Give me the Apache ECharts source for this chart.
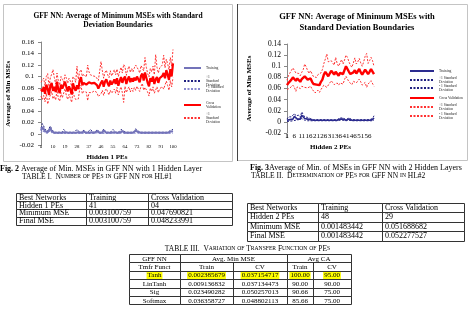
<!DOCTYPE html>
<html>
<head>
<meta charset="utf-8">
<script src="https://cdn.jsdelivr.net/npm/echarts@6/dist/echarts.min.js"></script>
<style>
html,body{margin:0;padding:0;background:#fff;}
#main{width:468px;height:318px;}
</style>
</head>
<body>
<div id="main"></div>
<script>
var SERIF = 'Liberation Serif';

// ---- Fig. 2 : one hidden layer, 1..100 PEs ----
var pes1 = [];
for (var i = 1; i <= 100; i++) pes1.push(String(i));

var train1 = [0.006,0.012,0.009,0.005,0.004,0.003,0.005,0.01,0.005,0.003,
  0.002,0.002,0.002,0.002,0.002,0.002,0.002,0.005,0.003,0.002,
  0.002,0.002,0.002,0.002,0.002,0.002,0.002,0.005,0.003,0.002,
  0.002,0.002,0.004,0.002,0.002,0.002,0.002,0.005,0.003,0.002,
  0.002,0.002,0.005,0.003,0.002,0.002,0.002,0.006,0.003,0.002,
  0.002,0.002,0.002,0.002,0.005,0.003,0.002,0.002,0.002,0.002,
  0.005,0.005,0.003,0.002,0.002,0.002,0.002,0.002,0.002,0.002,
  0.002,0.006,0.005,0.003,0.002,0.002,0.002,0.002,0.002,0.002,
  0.002,0.002,0.002,0.002,0.002,0.002,0.002,0.002,0.002,0.002,
  0.003,0.002,0.002,0.002,0.002,0.002,0.002,0.004,0.002,0.005];
var trainHi1 = [0.01,0.018,0.014,0.008,0.007,0.005,0.008,0.014,0.008,0.005,
  0.003,0.003,0.003,0.003,0.003,0.003,0.003,0.008,0.005,0.003,
  0.003,0.003,0.003,0.003,0.003,0.003,0.003,0.008,0.005,0.003,
  0.003,0.003,0.007,0.003,0.003,0.003,0.003,0.008,0.005,0.003,
  0.003,0.003,0.008,0.005,0.003,0.003,0.003,0.009,0.005,0.003,
  0.003,0.003,0.003,0.003,0.008,0.005,0.003,0.003,0.003,0.003,
  0.008,0.008,0.005,0.003,0.003,0.003,0.003,0.003,0.003,0.003,
  0.003,0.009,0.008,0.005,0.003,0.003,0.003,0.003,0.003,0.003,
  0.003,0.003,0.003,0.003,0.003,0.003,0.003,0.003,0.003,0.003,
  0.005,0.003,0.003,0.003,0.003,0.003,0.003,0.006,0.003,0.008];
var trainLo1 = [0.002,0.006,0.004,0.002,0.001,0.001,0.002,0.006,0.002,0.001,
  0.001,0.001,0.001,0.001,0.001,0.001,0.001,0.002,0.001,0.001,
  0.001,0.001,0.001,0.001,0.001,0.001,0.001,0.002,0.001,0.001,
  0.001,0.001,0.001,0.001,0.001,0.001,0.001,0.002,0.001,0.001,
  0.001,0.001,0.002,0.001,0.001,0.001,0.001,0.003,0.001,0.001,
  0.001,0.001,0.001,0.001,0.002,0.001,0.001,0.001,0.001,0.001,
  0.002,0.002,0.001,0.001,0.001,0.001,0.001,0.001,0.001,0.001,
  0.001,0.003,0.002,0.001,0.001,0.001,0.001,0.001,0.001,0.001,
  0.001,0.001,0.001,0.001,0.001,0.001,0.001,0.001,0.001,0.001,
  0.001,0.001,0.001,0.001,0.001,0.001,0.001,0.002,0.001,0.002];
var cv1 = [0.078,0.074,0.082,0.07,0.086,0.079,0.068,0.083,0.089,0.075,
  0.082,0.073,0.091,0.077,0.071,0.086,0.079,0.076,0.091,0.082,
  0.074,0.083,0.077,0.069,0.088,0.08,0.075,0.085,0.078,0.093,
  0.099,0.085,0.089,0.087,0.086,0.088,0.09,0.087,0.088,0.086,
  0.089,0.087,0.085,0.079,0.077,0.089,0.093,0.082,0.091,0.095,
  0.088,0.083,0.093,0.086,0.09,0.095,0.087,0.097,0.084,0.092,
  0.099,0.089,0.096,0.1,0.087,0.095,0.1,0.09,0.097,0.091,
  0.098,0.093,0.1,0.095,0.09,0.101,0.105,0.093,0.107,0.098,
  0.089,0.083,0.097,0.091,0.1,0.087,0.095,0.099,0.089,0.097,
  0.094,0.101,0.106,0.097,0.111,0.103,0.094,0.113,0.1,0.123];
var cvHi1 = [0.09,0.088,0.097,0.084,0.1,0.105,0.082,0.098,0.104,0.112,
  0.098,0.087,0.106,0.092,0.085,0.1,0.095,0.09,0.103,0.097,
  0.088,0.097,0.092,0.083,0.1,0.096,0.09,0.118,0.095,0.108,
  0.112,0.1,0.104,0.102,0.099,0.12,0.108,0.103,0.104,0.101,
  0.103,0.1,0.098,0.093,0.092,0.126,0.11,0.097,0.107,0.111,
  0.103,0.098,0.11,0.101,0.106,0.112,0.103,0.113,0.1,0.108,
  0.116,0.106,0.121,0.117,0.102,0.112,0.118,0.107,0.114,0.108,
  0.115,0.12,0.118,0.112,0.106,0.119,0.122,0.11,0.133,0.116,
  0.105,0.099,0.114,0.108,0.118,0.103,0.138,0.116,0.106,0.115,
  0.112,0.12,0.137,0.115,0.13,0.122,0.112,0.133,0.118,0.147];
var cvLo1 = [0.066,0.06,0.067,0.056,0.071,0.052,0.055,0.068,0.074,0.061,
  0.066,0.059,0.076,0.062,0.057,0.072,0.063,0.062,0.079,0.067,
  0.06,0.069,0.062,0.055,0.074,0.065,0.06,0.057,0.061,0.078,
  0.085,0.07,0.074,0.072,0.073,0.058,0.072,0.071,0.072,0.071,
  0.075,0.074,0.072,0.065,0.062,0.07,0.076,0.067,0.075,0.079,
  0.073,0.068,0.076,0.071,0.074,0.078,0.071,0.081,0.068,0.076,
  0.082,0.072,0.055,0.083,0.072,0.078,0.082,0.073,0.08,0.074,
  0.081,0.076,0.083,0.078,0.074,0.083,0.088,0.076,0.081,0.08,
  0.073,0.066,0.08,0.074,0.082,0.071,0.07,0.082,0.072,0.079,
  0.076,0.082,0.078,0.079,0.092,0.084,0.076,0.093,0.082,0.098];

// ---- Fig. 3 : two hidden layers, 1..60 PEs ----
var pes2 = [];
for (var j = 1; j <= 60; j++) pes2.push(String(j));

var train2 = [0.003,0.006,0.004,0.006,0.005,0.01,0.007,0.005,0.008,0.005,
  0.012,0.009,0.006,0.008,0.005,0.006,0.004,0.003,0.003,0.005,
  0.003,0.003,0.003,0.003,0.003,0.003,0.003,0.003,0.003,0.005,
  0.003,0.005,0.003,0.005,0.003,0.003,0.005,0.003,0.005,0.003,
  0.003,0.003,0.005,0.003,0.003,0.005,0.003,0.003,0.003,0.003,
  0.003,0.003,0.003,0.003,0.003,0.003,0.003,0.003,0.004,0.007];
var trainHi2 = [0.005,0.009,0.007,0.009,0.008,0.015,0.011,0.008,0.012,0.008,
  0.018,0.013,0.009,0.012,0.008,0.009,0.006,0.004,0.004,0.007,
  0.004,0.004,0.004,0.004,0.004,0.004,0.004,0.004,0.004,0.007,
  0.004,0.007,0.004,0.007,0.004,0.004,0.007,0.004,0.007,0.004,
  0.004,0.004,0.007,0.004,0.004,0.007,0.004,0.004,0.004,0.004,
  0.004,0.004,0.004,0.004,0.004,0.004,0.004,0.004,0.006,0.011];
var trainLo2 = [0.001,0.003,0.001,0.003,0.002,0.005,0.003,0.002,0.004,0.002,
  0.006,0.005,0.003,0.004,0.002,0.003,0.002,0.002,0.002,0.003,
  0.002,0.002,0.002,0.002,0.002,0.002,0.002,0.002,0.002,0.003,
  0.002,0.003,0.002,0.003,0.002,0.002,0.003,0.002,0.003,0.002,
  0.002,0.002,0.003,0.002,0.002,0.003,0.002,0.002,0.002,0.002,
  0.002,0.002,0.002,0.002,0.002,0.002,0.002,0.002,0.002,0.003];
var cv2 = [0.066,0.07,0.072,0.076,0.08,0.079,0.074,0.078,0.075,0.072,
  0.077,0.08,0.082,0.079,0.076,0.073,0.078,0.072,0.068,0.065,
  0.067,0.07,0.066,0.072,0.076,0.085,0.09,0.088,0.082,0.087,
  0.092,0.089,0.085,0.09,0.087,0.083,0.088,0.091,0.086,0.093,
  0.1,0.097,0.09,0.086,0.083,0.089,0.093,0.087,0.09,0.095,
  0.089,0.085,0.088,0.094,0.091,0.086,0.09,0.095,0.092,0.086];
var cvHi2 = [0.075,0.083,0.088,0.091,0.097,0.095,0.088,0.091,0.087,0.083,
  0.089,0.094,0.104,0.099,0.092,0.087,0.092,0.086,0.081,0.078,
  0.08,0.085,0.083,0.088,0.094,0.105,0.113,0.122,0.108,0.106,
  0.11,0.107,0.102,0.116,0.105,0.1,0.106,0.112,0.104,0.111,
  0.12,0.116,0.108,0.102,0.098,0.106,0.115,0.104,0.108,0.114,
  0.106,0.1,0.108,0.118,0.123,0.105,0.11,0.116,0.11,0.1];
var cvLo2 = [0.058,0.06,0.061,0.064,0.066,0.062,0.055,0.063,0.062,0.06,
  0.064,0.066,0.062,0.06,0.061,0.058,0.064,0.059,0.056,0.052,
  0.054,0.057,0.053,0.058,0.06,0.066,0.068,0.062,0.064,0.07,
  0.074,0.071,0.067,0.066,0.07,0.066,0.07,0.072,0.068,0.076,
  0.082,0.079,0.072,0.07,0.067,0.073,0.072,0.07,0.072,0.077,
  0.072,0.066,0.069,0.071,0.062,0.068,0.07,0.074,0.075,0.064];

// legend names (kept unique between the two charts)
var names1 = ['Training', '+1\nStandard\nDeviation', '- 1 Standard\nDeviation',
  'Cross\nValidation', '+1\nStandard\nDeviation ', '- 1 Standard\nDeviation '];
var names2 = ['Training ', '+1 Standard\nDeviation', '- 1 Standard\nDeviation  ',
  'Cross Validation', '+1 Standard\nDeviation ', '- 1 Standard\nDeviation   '];

// tables
var tab1Rows = [
  ['Best Networks', 'Training', 'Cross Validation'],
  ['Hidden 1 PEs', '41', '04'],
  ['Minimum MSE', '0.003100759', '0.047690821'],
  ['Final MSE', '0.003100759', '0.048233991']
];
var tab2Rows = [
  ['Best Networks', 'Training', 'Cross Validation'],
  ['Hidden 2 PEs', '48', '29'],
  ['Minimum MSE', '0.001483442', '0.051688682'],
  ['Final MSE', '0.001483442', '0.052277527']
];
var tab3Head = [
  [{t: 'GFF NN'}, {t: 'Avg. Min MSE', span: 2}, {t: 'Avg CA', span: 2}],
  ['Tmfr Funct', 'Train', 'CV', 'Train', 'CV']
];
var tab3Rows = [
  ['Tanh', '0.002385679', '0.037154717', '100.00', '95.00'],
  ['LinTanh', '0.009136832', '0.037134473', '90.00', '90.00'],
  ['Sig', '0.023490282', '0.050257013', '90.66', '75.00'],
  ['Softmax', '0.036358727', '0.048802113', '85.66', '75.00']
];

function line(name, data, idx, color, width, dashed, z) {
  return {
    type: 'line', name: name, data: data,
    xAxisIndex: idx, yAxisIndex: idx,
    symbol: 'none', showSymbol: false, z: z || 2,
    lineStyle: {color: color, width: width, type: dashed ? [2, 1.5] : 'solid'},
    itemStyle: {color: color}
  };
}

// one legend per item so each can sit where the reference puts it
function legends(names, left, centers, w) {
  var out = [];
  centers.forEach(function (c, k) {
    var h = names[k].split('\n').length * 4;
    out.push({
      data: [names[k]], orient: 'vertical', left: left, top: c - h / 2,
      padding: 0, itemWidth: w, itemHeight: 4, selectedMode: false,
      itemStyle: {opacity: 0},
      textStyle: {fontSize: 3.6, lineHeight: 4, fontFamily: SERIF, color: '#222'}
    });
  });
  return out;
}

function smallCaps(s) {
  var out = '', i = 0;
  while (i < s.length) {
    var low = s[i] >= 'a' && s[i] <= 'z', k = i;
    while (k < s.length && ((s[k] >= 'a' && s[k] <= 'z') === low)) k++;
    var seg = s.slice(i, k);
    out += low ? '{sc|' + seg.toUpperCase() + '}' : '{n|' + seg + '}';
    i = k;
  }
  return out;
}

function capText(x, y, txt, align, size) {
  size = size || 7.5;
  return {
    type: 'text', silent: true, x: x, y: y,
    style: {
      text: txt, align: align || 'left', verticalAlign: 'middle', fill: '#000',
      fontSize: size, fontFamily: SERIF,
      rich: {
        n: {fontSize: size, fontFamily: SERIF, fill: '#000'},
        sc: {fontSize: size * 0.75, fontFamily: SERIF, fill: '#000'},
        b: {fontSize: size, fontFamily: SERIF, fontWeight: 'bold', fill: '#000'},
        t: {fontSize: size, fontFamily: SERIF, fill: '#000'}
      }
    }
  };
}

function addTable(els, colX, y0, rowH, rows, o) {
  rows.forEach(function (row, r) {
    var c = 0;
    row.forEach(function (cell) {
      var span = cell.span || 1;
      var txt = typeof cell === 'string' ? cell : cell.t;
      var x1 = colX[c], x2 = colX[c + span];
      var y1 = y0 + r * rowH;
      els.push({
        type: 'rect', silent: true,
        shape: {x: Math.round(x1) + 0.5, y: Math.round(y1) + 0.5,
          width: Math.round(x2) - Math.round(x1), height: Math.round(y1 + rowH) - Math.round(y1)},
        style: {fill: 'none', stroke: '#333', lineWidth: 1}
      });
      var hl = o.highlight === r;
      els.push({
        type: 'text', silent: true,
        x: o.align === 'center' ? (x1 + x2) / 2 : x1 + o.pad,
        y: y1 + rowH / 2 + 0.5,
        style: {
          text: txt, fontSize: o.fontSize, fontFamily: SERIF, fill: '#000',
          align: o.align, verticalAlign: 'middle',
          backgroundColor: hl ? '#ffff00' : 'transparent', padding: hl ? [0, 1, 0, 1] : 0
        }
      });
      c += span;
    });
  });
}

var els = [];
// figure frames
els.push({type: 'rect', silent: true, shape: {x: 3.5, y: 4.5, width: 229, height: 157},
  style: {fill: 'none', stroke: '#c4c4c4', lineWidth: 1}});
els.push({type: 'rect', silent: true, shape: {x: 237.5, y: 4.5, width: 230, height: 156},
  style: {fill: 'none', stroke: '#c4c4c4', lineWidth: 1}});
els.push({type: 'line', silent: true, shape: {x1: 237.5, y1: 4, x2: 237.5, y2: 161},
  style: {stroke: '#444', lineWidth: 1}});

// captions
els.push(capText(0, 169, '{b|Fig. 2} {t|Average of Min. MSEs in GFF NN with 1 Hidden Layer}', 'left', 8));
els.push(capText(22, 177, '{n|TABLE I.  }' + smallCaps('Number of PEs in GFF NN for HL#1')));
els.push(capText(250, 167.5, '{b|Fig. 3}{t|Average of Min. of MSEs in GFF NN with 2 Hidden Layers}', 'left', 8));
els.push(capText(251, 176, '{n|TABLE II.  }' + smallCaps('Determination of PEs for GFF NN in HL#2')));
els.push(capText(247.5, 249, '{n|TABLE III.  }' + smallCaps('Variation of Transfer Function of PEs'), 'center'));

addTable(els, [16, 86, 148, 232], 193.3, 7.8, tab1Rows, {align: 'left', pad: 3, fontSize: 8});
addTable(els, [247, 318, 382, 464], 202.5, 9.5, tab2Rows, {align: 'left', pad: 3, fontSize: 8});
addTable(els, [129, 180, 233, 287, 313, 351], 254, 8.4, tab3Head.concat(tab3Rows),
  {align: 'center', pad: 0, fontSize: 7, highlight: 2});

els.forEach(function (e, k) { e.id = 'g' + k; });

var axisFont = {fontFamily: SERIF, color: '#000'};
var nameFont = {fontSize: 7, fontWeight: 'bold', fontFamily: SERIF, color: '#000'};
var xLab1 = {interval: 8, fontSize: 4.8, margin: -1};
var xLab2 = {interval: 4, fontSize: 7, margin: 0};

// category axes carry only the tick labels; the axis titles sit on twin axes
function catAxis(grid, data, labels) {
  return {type: 'category', gridIndex: grid, data: data, boundaryGap: false,
    axisLine: {show: false}, axisTick: {show: false},
    axisLabel: Object.assign({showMinLabel: true}, axisFont, labels)};
}
function nameAxis(grid, data, name, gap) {
  return {type: 'category', gridIndex: grid, data: data, boundaryGap: false,
    axisLine: {show: false}, axisTick: {show: false}, axisLabel: {show: false},
    name: name, nameLocation: 'middle', nameGap: gap, nameTextStyle: nameFont};
}

var option = {
  animation: false,
  title: [
    {text: 'GFF NN: Average of Minimum MSEs with Standard\nDeviation Boundaries',
      left: 118, top: 11.5, textAlign: 'center', padding: 0,
      textStyle: {fontSize: 7.5, lineHeight: 9, fontWeight: 'bold', fontFamily: SERIF, color: '#000'}},
    {text: 'GFF NN: Average of Minimum MSEs with\nStandard Deviation Boundaries',
      left: 357, top: 11.5, textAlign: 'center', padding: 0,
      textStyle: {fontSize: 8.5, lineHeight: 11, fontWeight: 'bold', fontFamily: SERIF, color: '#000'}}
  ],
  legend: legends(names1, 183, [68, 81, 89, 105, 118], 17)
    .concat(legends(names2, 409, [71, 80, 88, 98, 107, 116], 24)),
  grid: [
    {left: 41, top: 42, width: 132, height: 103.5},
    {left: 287, top: 44, width: 87, height: 89},
    {left: 41, top: 42, width: 132, height: 103.5},
    {left: 287, top: 44, width: 87, height: 89}
  ],
  xAxis: [
    catAxis(0, pes1, xLab1),
    catAxis(1, pes2, xLab2),
    nameAxis(2, pes1, 'Hidden 1 PEs', 8),
    nameAxis(3, pes2, 'Hidden 2 PEs', 10.5)
  ],
  yAxis: [
    {type: 'value', gridIndex: 0, min: -0.02, max: 0.16, interval: 0.02,
      splitLine: {show: false},
      axisLine: {show: true, lineStyle: {color: '#888'}},
      axisTick: {show: true, length: 3, lineStyle: {color: '#888'}},
      axisLabel: Object.assign({fontSize: 7, margin: 7}, axisFont),
      name: 'Average of Min MSEs', nameLocation: 'middle', nameRotate: 90, nameGap: 29,
      nameTextStyle: nameFont},
    {type: 'value', gridIndex: 1, min: -0.02, max: 0.14, interval: 0.02,
      splitLine: {show: false},
      axisLine: {show: true, lineStyle: {color: '#888'}},
      axisTick: {show: true, length: 3, lineStyle: {color: '#888'}},
      axisLabel: Object.assign({fontSize: 7.5, margin: 6}, axisFont),
      name: 'Average of Min MSEs', nameLocation: 'middle', nameRotate: 90, nameGap: 34,
      nameTextStyle: nameFont},
    {type: 'value', gridIndex: 2, show: false},
    {type: 'value', gridIndex: 3, show: false}
  ],
  series: [
    line(names1[0], train1, 0, '#7373b9', 2, false, 3),
    line(names1[1], trainHi1, 0, '#1f1f80', 1, true),
    line(names1[2], trainLo1, 0, '#8a8ad0', 1, true),
    line(names1[3], cv1, 0, '#ff0000', 2.2, false, 3),
    line(names1[4], cvHi1, 0, '#ff3030', 1, true),
    line(names1[5], cvLo1, 0, '#ff3030', 1, true),
    line(names2[0], train2, 1, '#2b2b8f', 1.6, false, 3),
    line(names2[1], trainHi2, 1, '#1f1f80', 1, true),
    line(names2[2], trainLo2, 1, '#1f1f80', 1, true),
    line(names2[3], cv2, 1, '#ff0000', 2.4, false, 3),
    line(names2[4], cvHi2, 1, '#ff3030', 1, true),
    line(names2[5], cvLo2, 1, '#ff3030', 1, true)
  ],
  graphic: {elements: els}
};

var chart = echarts.init(document.getElementById('main'), null, {renderer: 'canvas'});
chart.setOption(option);

// the library drops the first category label ("1") at the y axis; put it back
// at the point the axis itself gives for that category
try {
  var extra = [];
  [[0, pes1, xLab1, -0.02], [1, pes2, xLab2, -0.02]].forEach(function (a) {
    var p = chart.convertToPixel({gridIndex: a[0]}, [a[1][0], a[3]]);
    if (p && isFinite(p[0]) && isFinite(p[1])) {
      extra.push({type: 'text', id: 'first' + a[0], silent: true, x: p[0], y: p[1] + a[2].margin,
        style: {text: a[1][0], fontSize: a[2].fontSize, fontFamily: SERIF, fill: '#000',
          align: 'center', verticalAlign: 'top'}});
    }
  });
  if (extra.length) chart.setOption({graphic: {elements: extra}});
} catch (e) {}
</script>
</body>
</html>
